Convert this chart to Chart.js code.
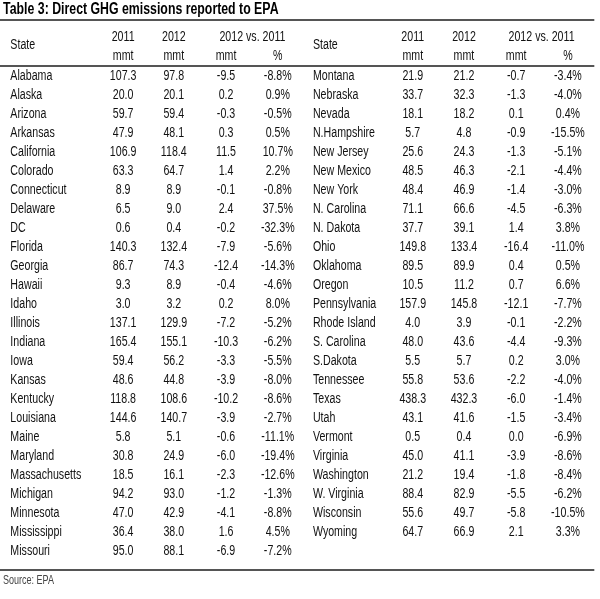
<!DOCTYPE html>
<html>
<head>
<meta charset="utf-8">
<script src="https://cdn.jsdelivr.net/npm/chart.js@4"></script>
<style>
  html, body { margin: 0; padding: 0; background: #fff; }
  #wrap { width: 600px; height: 599px; }
</style>
</head>
<body>
<div id="wrap"><canvas id="tbl" width="600" height="599"></canvas></div>
<script>
const title = "Table 3: Direct GHG emissions reported to EPA";
const source = "Source: EPA";
const headTop = ["2011", "2012", "2012 vs. 2011"];
const headUnits = ["mmt", "mmt", "mmt", "%"];

const leftStates = ["Alabama", "Alaska", "Arizona", "Arkansas", "California", "Colorado", "Connecticut", "Delaware", "DC", "Florida", "Georgia", "Hawaii", "Idaho", "Illinois", "Indiana", "Iowa", "Kansas", "Kentucky", "Louisiana", "Maine", "Maryland", "Massachusetts", "Michigan", "Minnesota", "Mississippi", "Missouri"];
const left2011 = [107.3, 20.0, 59.7, 47.9, 106.9, 63.3, 8.9, 6.5, 0.6, 140.3, 86.7, 9.3, 3.0, 137.1, 165.4, 59.4, 48.6, 118.8, 144.6, 5.8, 30.8, 18.5, 94.2, 47.0, 36.4, 95.0];
const left2012 = [97.8, 20.1, 59.4, 48.1, 118.4, 64.7, 8.9, 9.0, 0.4, 132.4, 74.3, 8.9, 3.2, 129.9, 155.1, 56.2, 44.8, 108.6, 140.7, 5.1, 24.9, 16.1, 93.0, 42.9, 38.0, 88.1];
const leftDiff = [-9.5, 0.2, -0.3, 0.3, 11.5, 1.4, -0.1, 2.4, -0.2, -7.9, -12.4, -0.4, 0.2, -7.2, -10.3, -3.3, -3.9, -10.2, -3.9, -0.6, -6.0, -2.3, -1.2, -4.1, 1.6, -6.9];
const leftPct = [-8.8, 0.9, -0.5, 0.5, 10.7, 2.2, -0.8, 37.5, -32.3, -5.6, -14.3, -4.6, 8.0, -5.2, -6.2, -5.5, -8.0, -8.6, -2.7, -11.1, -19.4, -12.6, -1.3, -8.8, 4.5, -7.2];

const rightStates = ["Montana", "Nebraska", "Nevada", "N.Hampshire", "New Jersey", "New Mexico", "New York", "N. Carolina", "N. Dakota", "Ohio", "Oklahoma", "Oregon", "Pennsylvania", "Rhode Island", "S. Carolina", "S.Dakota", "Tennessee", "Texas", "Utah", "Vermont", "Virginia", "Washington", "W. Virginia", "Wisconsin", "Wyoming"];
const right2011 = [21.9, 33.7, 18.1, 5.7, 25.6, 48.5, 48.4, 71.1, 37.7, 149.8, 89.5, 10.5, 157.9, 4.0, 48.0, 5.5, 55.8, 438.3, 43.1, 0.5, 45.0, 21.2, 88.4, 55.6, 64.7];
const right2012 = [21.2, 32.3, 18.2, 4.8, 24.3, 46.3, 46.9, 66.6, 39.1, 133.4, 89.9, 11.2, 145.8, 3.9, 43.6, 5.7, 53.6, 432.3, 41.6, 0.4, 41.1, 19.4, 82.9, 49.7, 66.9];
const rightDiff = [-0.7, -1.3, 0.1, -0.9, -1.3, -2.1, -1.4, -4.5, 1.4, -16.4, 0.4, 0.7, -12.1, -0.1, -4.4, 0.2, -2.2, -6.0, -1.5, 0.0, -3.9, -1.8, -5.5, -5.8, 2.1];
const rightPct = [-3.4, -4.0, 0.4, -15.5, -5.1, -4.4, -3.0, -6.3, 3.8, -11.0, 0.5, 6.6, -7.7, -2.2, -9.3, 3.0, -4.0, -1.4, -3.4, -6.9, -8.6, -8.4, -6.2, -10.5, 3.3];

// layout, in column units (x) and row units (y)
const stateX = [0.2, 6.05];
const numX = [[2.38, 3.36, 4.37, 5.37], [7.98, 8.97, 9.98, 10.98]];
const vsX = [4.88, 10.47];
const ruleY = [-2.95, -0.55, 26.0];
const FONT = "'Liberation Sans', Arial, sans-serif";
const INK = "#111";

const fmt = v => v.toFixed(1);
const pct = v => v.toFixed(1) + "%";

// every cell becomes a point; its text is drawn where the scales put it
// (no condensed face installed, so the regular one is squeezed by `narrow`)
function cells(xs, rows, texts, opts) {
  return Object.assign({
    data: texts.map((t, i) => ({ x: Array.isArray(xs) ? xs[i] : xs, y: Array.isArray(rows) ? rows[i] : rows })),
    texts,
    pointRadius: 0,
    align: "center",
    font: "14px " + FONT,
    narrow: 0.76,
    color: INK
  }, opts || {});
}

const idx = n => Array.from({ length: n }, (_, i) => i);

const datasets = [
  cells(0.06, -3.47, [title], { align: "left", font: "bold 16px " + FONT, narrow: 0.77, color: "#000" }),
  cells(stateX, -1.62, ["State", "State"], { align: "left" }),
  cells([numX[0][0], numX[0][1], vsX[0], numX[1][0], numX[1][1], vsX[1]], -2.05, headTop.concat(headTop)),
  cells(numX[0].concat(numX[1]), -1.05, headUnits.concat(headUnits)),
  cells(stateX[0], idx(leftStates.length), leftStates, { align: "left" }),
  cells(numX[0][0], idx(left2011.length), left2011.map(fmt)),
  cells(numX[0][1], idx(left2012.length), left2012.map(fmt)),
  cells(numX[0][2], idx(leftDiff.length), leftDiff.map(fmt)),
  cells(numX[0][3], idx(leftPct.length), leftPct.map(pct)),
  cells(stateX[1], idx(rightStates.length), rightStates, { align: "left" }),
  cells(numX[1][0], idx(right2011.length), right2011.map(fmt)),
  cells(numX[1][1], idx(right2012.length), right2012.map(fmt)),
  cells(numX[1][2], idx(rightDiff.length), rightDiff.map(fmt)),
  cells(numX[1][3], idx(rightPct.length), rightPct.map(pct)),
  cells(0.06, 26.55, [source], { align: "left", font: "12px " + FONT, narrow: 0.75, color: "#444" })
];

const tablePlugin = {
  id: "tableText",
  afterDatasetsDraw(chart) {
    const { ctx, scales: { x, y } } = chart;
    ctx.save();
    // horizontal rules
    ctx.strokeStyle = "#555";
    ctx.lineWidth = 2;
    ruleY.forEach(r => {
      const py = Math.round(y.getPixelForValue(r));
      ctx.beginPath();
      ctx.moveTo(x.getPixelForValue(0), py);
      ctx.lineTo(x.getPixelForValue(11.49), py);
      ctx.stroke();
    });
    // cell text
    ctx.textBaseline = "middle";
    chart.data.datasets.forEach((ds, i) => {
      const meta = chart.getDatasetMeta(i);
      ctx.font = ds.font;
      ctx.fillStyle = ds.color;
      ctx.textAlign = ds.align;
      meta.data.forEach((pt, j) => {
        ctx.save();
        ctx.translate(pt.x, pt.y);
        ctx.scale(ds.narrow, 1);
        ctx.fillText(ds.texts[j], 0, 0);
        ctx.restore();
      });
    });
    ctx.restore();
  }
};

new Chart(document.getElementById("tbl"), {
  type: "scatter",
  data: { datasets },
  options: {
    responsive: false,
    animation: false,
    events: [],
    layout: { padding: 0 },
    plugins: { legend: { display: false }, tooltip: { enabled: false } },
    scales: {
      x: { type: "linear", min: 0, max: 11.6, display: false },
      y: { type: "linear", min: -4, max: 27.53, reverse: true, display: false }
    }
  },
  plugins: [tablePlugin]
});
</script>
</body>
</html>
